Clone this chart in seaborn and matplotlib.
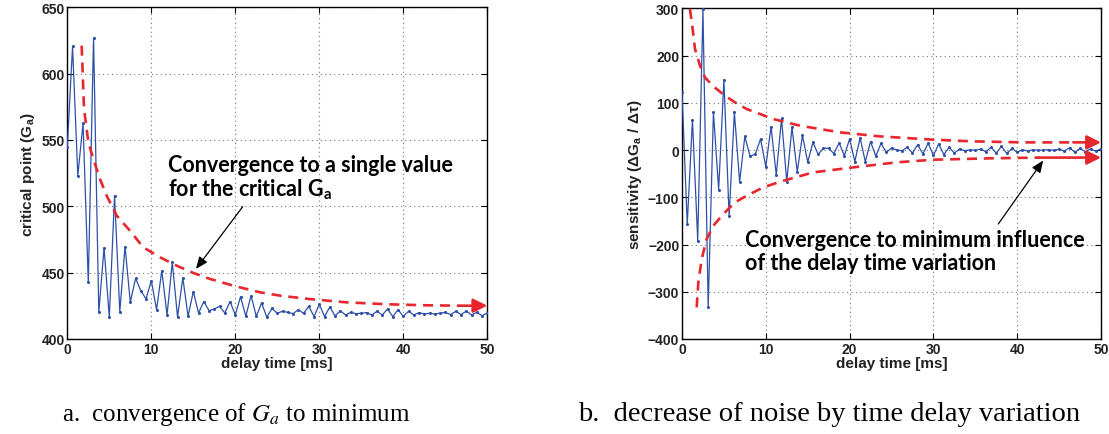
import numpy as np
import matplotlib
matplotlib.use("Agg")
import matplotlib.pyplot as plt
import seaborn as sns

# ---------------- data ----------------
delay_ms = np.linspace(0, 50, 81)

critical_point = [
    544.5, 620.6, 523.1, 562.6, 442.7, 626.9, 420.1, 468.8, 416.4, 508.0,
    420.6, 469.6, 427.7, 445.7, 436.4, 430.2, 444.0, 422.1, 451.5, 418.1,
    457.8, 416.4, 446.2, 417.1, 435.7, 419.6, 428.2, 421.4, 422.6, 424.6,
    419.6, 428.2, 418.1, 431.9, 417.1, 432.7, 417.1, 427.2, 416.4, 423.1,
    419.4, 420.9, 420.1, 419.1, 422.1, 419.4, 424.6, 416.9, 426.2, 416.9,
    424.1, 417.4, 421.4, 418.1, 420.1, 419.1, 419.4, 419.9, 418.1, 420.9,
    418.1, 422.6, 416.9, 422.1, 417.1, 420.9, 418.1, 419.9, 418.9, 419.4,
    418.9, 419.4, 420.1, 418.4, 420.9, 418.4, 421.1, 418.1, 420.1, 417.6,
    419.4,
]

sensitivity = [
    123.4, -156.7, 64.2, -192.0, 298.0, -333.1, 79.7, -84.0, 148.8, -140.4,
    79.7, -67.1, 28.9, -13.4, -8.5, 23.3, -35.3, 49.4, -52.9, 67.0,
    -67.1, 48.5, -46.5, 31.0, -25.5, 16.2, -9.2, 3.8, 3.8, -7.7,
    14.8, -12.0, 23.5, -24.3, 25.7, -24.7, 18.0, -13.0, 14.1, -4.9,
    4.2, 0.0, -1.4, 5.7, -6.3, 11.3, -8.5, 14.5, -11.5, 12.7,
    -9.5, 5.6, -6.4, 2.1, -1.4, 0.7, -0.7, 2.1, -3.5, 5.6,
    -6.4, 7.8, -7.1, 3.5, -4.9, 0.7, -2.1, 0.7, -0.7, 0.0,
    0.7, -0.7, 2.1, -2.1, 4.9, -4.9, 3.5, -3.5, 2.1, -2.1,
    2.1,
]

# hand-drawn red guide curves
guide_a_x = [1.71, 1.99, 2.51, 3.10, 3.89, 4.69, 5.88, 7.27, 9.05, 11.03,
             13.01, 15.0, 16.97, 19.75, 22.93, 25.3, 28.7, 33.06, 38.0,
             42.8, 46.75, 50.0]
guide_a_y = [621.1, 573.4, 548.2, 535.7, 520.6, 508.0, 493.0, 483.0, 469.1,
             461.6, 455.3, 449.8, 445.3, 440.2, 435.2, 432.7, 430.2, 427.7,
             426.2, 425.4, 425.1, 425.1]

guide_b_up_x = [0.95, 1.27, 1.55, 2.15, 2.74, 3.74, 5.13, 6.32, 7.72, 9.31,
                10.9, 12.49, 14.08, 18.85, 23.62, 29.99, 34.75, 40.7, 46.7,
                50.0]
guide_b_up_y = [298.4, 256.1, 213.8, 178.5, 153.8, 134.7, 115.0, 100.9, 86.8,
                76.2, 65.6, 58.5, 51.5, 37.4, 28.9, 21.9, 18.3, 16.2, 16.2,
                16.2]

guide_b_lo_x = [1.75, 1.95, 2.35, 2.94, 3.74, 4.93, 6.32, 7.72, 9.7, 11.69,
                15.67, 20.44, 25.61, 29.99, 36.75, 42.7, 50.0]
guide_b_lo_y = [-333.1, -280.2, -230.8, -188.4, -160.2, -135.5, -110.8,
                -96.7, -79.1, -67.1, -47.3, -36.7, -26.1, -20.5, -17.6,
                -16.0, -16.0]

xticks = [0, 10, 20, 30, 40, 50]
yticks_a = [400, 450, 500, 550, 600, 650]
yticks_b = [-400, -300, -200, -100, 0, 100, 200, 300]

xlabel = "delay time [ms]"
ylabel_a = "critical point (G$_\\mathregular{a}$)"
ylabel_b = "sensitivity (\u0394G$_\\mathregular{a}$ / \u0394\u03c4)"
note_a = ["Convergence to a single value", "for the critical G$_\\mathregular{a}$"]
note_b = ["Convergence to minimum influence", "of the delay time variation"]
caption_a = "a.  convergence of $G_a$ to minimum"
caption_b = "b.  decrease of noise by time delay variation"

# ---------------- style ----------------
sns.set_theme(style="ticks")
plt.rcParams["font.family"] = ["Liberation Sans", "DejaVu Sans"]
plt.rcParams["mathtext.fontset"] = "stix"

BLUE = "#2d50a8"
RED = "#e8262e"
W, H = 1109, 435

fig = plt.figure(figsize=(W / 100, H / 100), dpi=100)
fig.patch.set_facecolor("white")

ax1 = fig.add_axes([67.3 / W, 1 - 340 / H, (487.3 - 67.3) / W, (340 - 8.3) / H])
ax2 = fig.add_axes([682 / W, 1 - 340 / H, (1101 - 682) / W, (340 - 9.3) / H])


def style_axes(ax, yticks, ylim, ylabel):
    ax.set_xlim(0, 50)
    ax.set_ylim(*ylim)
    ax.set_xticks(xticks)
    ax.set_yticks(yticks)
    ax.set_xticklabels([str(t) for t in xticks])
    ax.set_yticklabels([str(t).replace("-", "\u2212") for t in yticks])
    ax.grid(True, linestyle=(0, (1, 3)), color="#777777", linewidth=0.8)
    ax.tick_params(direction="in", length=4, width=0.8, top=True, right=True,
                   labelsize=10, pad=2, colors="black")
    for lab in ax.get_xticklabels() + ax.get_yticklabels():
        lab.set_fontweight("bold")
        lab.set_color("#222222")
    for sp in ax.spines.values():
        sp.set_visible(True)
        sp.set_linewidth(1.0)
        sp.set_color("black")
    ax.set_xlabel(xlabel, fontsize=11, fontweight="bold", labelpad=0,
                  color="#222222")
    ax.set_ylabel(ylabel, fontsize=11, fontweight="bold", labelpad=3,
                  color="#222222")
    ax.set_facecolor("white")


def draw_guide(ax, gx, gy):
    ax.plot(gx[:-1], gy[:-1], color=RED, lw=1.9, dashes=(3.8, 2.6),
            solid_capstyle="butt", dash_capstyle="butt", zorder=4)
    ax.annotate("", xy=(gx[-1], gy[-1]), xytext=(gx[-2], gy[-2]),
                arrowprops=dict(arrowstyle="-|>,head_length=0.7,head_width=0.35",
                                color=RED, lw=1.9, shrinkA=0, shrinkB=0),
                annotation_clip=False, zorder=4)


# ---- panel a ----
sns.lineplot(x=delay_ms, y=critical_point, ax=ax1, color=BLUE, linewidth=0.9,
             marker="o", markersize=2.2, markeredgewidth=0, zorder=3)
style_axes(ax1, yticks_a, (400, 650), ylabel_a)
draw_guide(ax1, guide_a_x, guide_a_y)
ax1.annotate("", xy=(15.32, 452.8), xytext=(20.88, 499.7),
             arrowprops=dict(arrowstyle="-|>,head_length=0.6,head_width=0.25",
                             color="black", lw=0.9, shrinkA=0, shrinkB=0))

# ---- panel b ----
sns.lineplot(x=delay_ms, y=sensitivity, ax=ax2, color=BLUE, linewidth=0.9,
             marker="o", markersize=2.2, markeredgewidth=0, zorder=3)
style_axes(ax2, yticks_b, (-400, 300), ylabel_b)
draw_guide(ax2, guide_b_up_x, guide_b_up_y)
draw_guide(ax2, guide_b_lo_x, guide_b_lo_y)
ax2.annotate("", xy=(43.1, -22.2), xytext=(37.74, -156.6),
             arrowprops=dict(arrowstyle="-|>,head_length=0.6,head_width=0.25",
                             color="black", lw=0.9, shrinkA=0, shrinkB=0))

# annotation texts (figure pixel positions)
note_font = dict(family=["Lato", "DejaVu Sans"], fontweight="bold",
                 fontsize=15.5, color="black", va="baseline", ha="left")
fig.text(168.3 / W, 1 - 172.3 / H, note_a[0], **note_font)
fig.text(168.3 / W, 1 - 196.5 / H, note_a[1], **note_font)
fig.text(745 / W, 1 - 246.7 / H, note_b[0], **note_font)
fig.text(745 / W, 1 - 270.5 / H, note_b[1], **note_font)

# captions
cap_font = dict(family=["Liberation Serif", "DejaVu Serif"],
                color="black", va="baseline", ha="left")
fig.text(62 / W, 1 - 421 / H, caption_a, fontsize=18, **cap_font)
fig.text(578 / W, 1 - 421 / H, caption_b, fontsize=20.5, **cap_font)

fig.savefig("out.png", dpi=100, facecolor="white")
